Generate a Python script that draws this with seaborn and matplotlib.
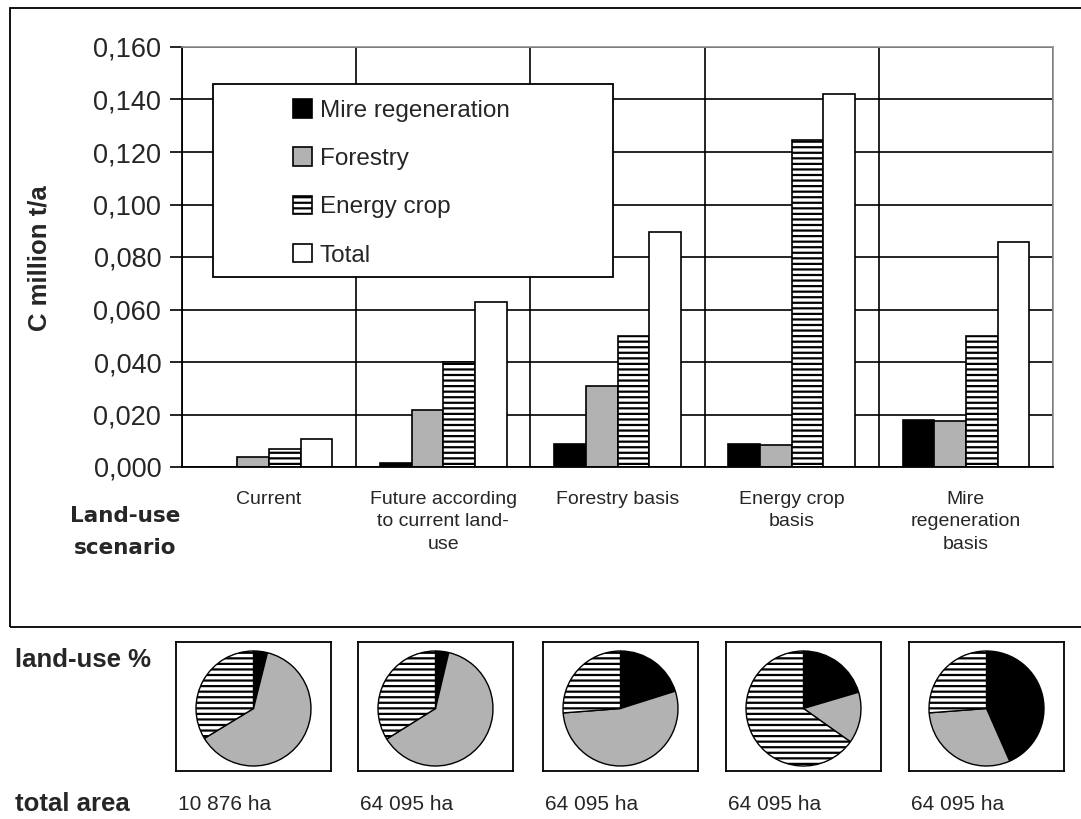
import numpy as np
import pandas as pd
import matplotlib
matplotlib.use('Agg')
import matplotlib.pyplot as plt
from matplotlib.patches import Rectangle
import seaborn as sns

# data
scenarios = ['Current', 'Future according\nto current land-\nuse', 'Forestry basis',
             'Energy crop\nbasis', 'Mire\nregeneration\nbasis']
series = ['Mire regeneration', 'Forestry', 'Energy crop', 'Total']
mire = [0.0, 0.0015, 0.0088, 0.0088, 0.0179]
forestry = [0.0038, 0.0217, 0.0309, 0.0084, 0.0176]
energy = [0.0069, 0.0400, 0.0499, 0.1246, 0.0500]
total = [0.0107, 0.0630, 0.0895, 0.1420, 0.0857]

# land-use shares for the pies (%)
pie_mire = [3.9, 3.7, 20.1, 20.4, 43.4]
pie_forestry = [62.4, 62.4, 53.6, 14.4, 30.4]
pie_energy = [33.7, 33.9, 26.2, 65.1, 26.2]
areas = ['10 876 ha', '64 095 ha', '64 095 ha', '64 095 ha', '64 095 ha']

yticks = [0.0, 0.02, 0.04, 0.06, 0.08, 0.10, 0.12, 0.14, 0.16]

sns.set_style('white')
plt.rcParams['font.family'] = ['Liberation Sans', 'DejaVu Sans']
plt.rcParams['hatch.color'] = '#606060'
plt.rcParams['hatch.linewidth'] = 1.6

W, H = 1081, 819
fig = plt.figure(figsize=(W / 100, H / 100), dpi=100)

def fx(px):
    return px / W

def fy(py):
    return 1 - py / H

# long table for seaborn
df = pd.DataFrame({
    'scenario': np.repeat(scenarios, 4),
    'series': series * 5,
    'value': np.ravel(np.column_stack([mire, forestry, energy, total])),
})

colors = ['black', '#b2b2b2', 'white', 'white']
hatches = [None, None, '---', None]

ax = fig.add_axes([fx(182), fy(467), fx(1053 - 182), (467 - 47) / H])
sns.barplot(data=df, x='scenario', y='value', hue='series', hue_order=series,
            palette=colors, edgecolor='black', linewidth=1.2, width=0.727,
            gap=0, saturation=1, legend=False, ax=ax)

for cont, h in zip(ax.containers, hatches):
    for p in cont.patches:
        p.set_edgecolor('black')
        if h:
            p.set_hatch(h)

ax.set_xlim(-0.5, 4.5)
ax.set_ylim(0, 0.16)
ax.set_yticks(yticks)
ax.set_yticklabels([f'{v:.3f}'.replace('.', ',') for v in yticks], fontsize=19.5)
ax.set_xticks(range(5))
ax.set_xticklabels(scenarios, fontsize=14, va='top', linespacing=1.45)
ax.set_xticks(np.arange(-0.5, 5, 1), minor=True)
ax.tick_params(axis='x', which='major', length=0, pad=17)
ax.tick_params(axis='x', which='minor', length=8, width=1.2, direction='out', color='black')
ax.tick_params(axis='y', length=9, width=1.2, direction='out', color='black', pad=6, left=True)
ax.set_axisbelow(True)
ax.grid(axis='y', color='black', linewidth=1.2)
ax.grid(axis='x', which='minor', color='black', linewidth=1.2)
ax.set_xlabel('')
ax.set_ylabel('')
for side in ['left', 'bottom']:
    ax.spines[side].set_color('black')
    ax.spines[side].set_linewidth(1.3)
for side in ['top', 'right']:
    ax.spines[side].set_color('#909090')
    ax.spines[side].set_linewidth(1.2)

# legend box drawn over the grid
x0 = (213 - 182) / 871
y0 = (467 - 277) / 420
ax.add_patch(Rectangle((x0, y0), 400 / 871, 193 / 420, transform=ax.transAxes,
                       facecolor='white', edgecolor='black', linewidth=1.3, zorder=4))
leg = ax.legend(ax.containers, series, loc='upper left',
                bbox_to_anchor=((293 - 182) / 871, (467 - 99) / 420),
                frameon=False, fontsize=17.5, handlelength=0.8, handleheight=0.8,
                handletextpad=0.3, labelspacing=1.05, borderpad=0, borderaxespad=0)
leg.set_zorder(5)

fig.text(fx(40), fy(258), 'C million t/a', rotation=90, fontsize=18.5,
         fontweight='bold', ha='center', va='center')
fig.text(fx(125), fy(532), 'Land-use\nscenario', fontsize=15.5, fontweight='bold',
         family=['DejaVu Sans'], ha='center', va='center', linespacing=1.7)

# outer frame around the bar chart
fig.add_artist(Rectangle((fx(10), fy(627)), fx(1090 - 10), (627 - 8) / H,
                         transform=fig.transFigure, fill=False,
                         edgecolor='black', linewidth=1.3))

# pies
box_left = [176, 358, 543, 726, 909]
for i, bl in enumerate(box_left):
    pax = fig.add_axes([fx(bl), fy(771), fx(155), 129 / H])
    vals = [pie_mire[i], pie_forestry[i], pie_energy[i]]
    wedges, _ = pax.pie(vals, colors=['black', '#b2b2b2', 'white'], startangle=90,
                        counterclock=False,
                        wedgeprops=dict(edgecolor='black', linewidth=1.0))
    wedges[2].set_hatch('---')
    pax.set_aspect('auto')
    pax.set_xlim(-77.5 / 57.5, 77.5 / 57.5)
    pax.set_ylim(-62.5 / 57.5, 66.5 / 57.5)
    pax.set_axis_on()
    pax.set_frame_on(True)
    pax.set_xticks([])
    pax.set_yticks([])
    for s in pax.spines.values():
        s.set_visible(True)
        s.set_color('black')
        s.set_linewidth(1.3)
    fig.text(fx(bl + 2), fy(804), areas[i], fontsize=15, ha='left', va='center')

fig.text(fx(15), fy(660), 'land-use %', fontsize=18.5, fontweight='bold',
         ha='left', va='center')
fig.text(fx(15), fy(804), 'total area', fontsize=18.5, fontweight='bold',
         ha='left', va='center')

fig.savefig('out.png', dpi=100)
